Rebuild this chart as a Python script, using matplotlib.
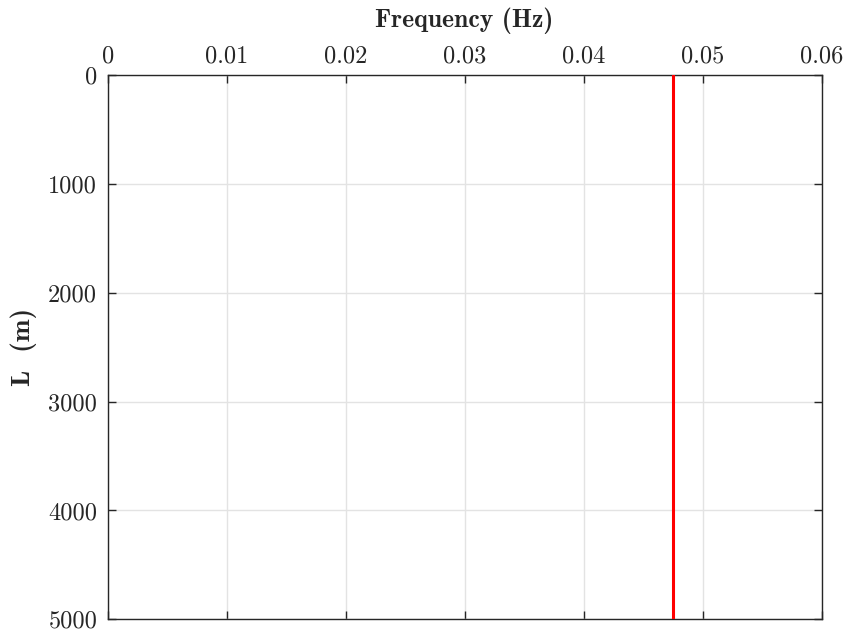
import matplotlib
matplotlib.use("Agg")
import matplotlib.pyplot as plt

# Data: a single resonance frequency drawn across the full depth range
freq_value = 0.0475
depth_range = [0, 5000]
x_ticks = [0, 0.01, 0.02, 0.03, 0.04, 0.05, 0.06]
x_tick_labels = ["0", "0.01", "0.02", "0.03", "0.04", "0.05", "0.06"]
y_ticks = [0, 1000, 2000, 3000, 4000, 5000]
y_tick_labels = ["0", "1000", "2000", "3000", "4000", "5000"]

ink = "#262626"
plt.rcParams["axes.unicode_minus"] = False
fig = plt.figure(figsize=(8.49, 6.34), dpi=100)
ax = fig.add_axes([0.1268, 0.0232, 0.9678 - 0.1268, 0.8812 - 0.0232])

ax.plot([freq_value, freq_value], depth_range, color="#ff0000", lw=2.2, zorder=3)

ax.set_xlim(0, 0.06)
ax.set_ylim(5000, 0)
ax.xaxis.tick_top()
ax.xaxis.set_label_position("top")
ax.set_xticks(x_ticks)
ax.set_xticklabels(x_tick_labels, fontfamily="cmr10", fontsize=17.5, color=ink)
ax.set_yticks(y_ticks)
ax.set_yticklabels(y_tick_labels, fontfamily="cmr10", fontsize=17.5, color=ink)

ax.tick_params(axis="both", direction="in", length=6, width=1.0, color=ink,
               top=True, bottom=True, left=True, right=True)
ax.tick_params(axis="x", labeltop=True, labelbottom=False, pad=5.5)
ax.tick_params(axis="y", pad=7.5)

ax.grid(True, color="#e3e3e3", lw=1.0)
ax.set_axisbelow(True)
for s in ax.spines.values():
    s.set_color(ink)
    s.set_linewidth(1.0)

ax.set_xlabel("Frequency (Hz)", fontfamily="cmb10", fontsize=18.5, color=ink, labelpad=13.5)
ax.set_ylabel("L  (m)", fontfamily="cmb10", fontsize=19.5, color=ink, labelpad=8)

fig.savefig("out.png", dpi=100)
